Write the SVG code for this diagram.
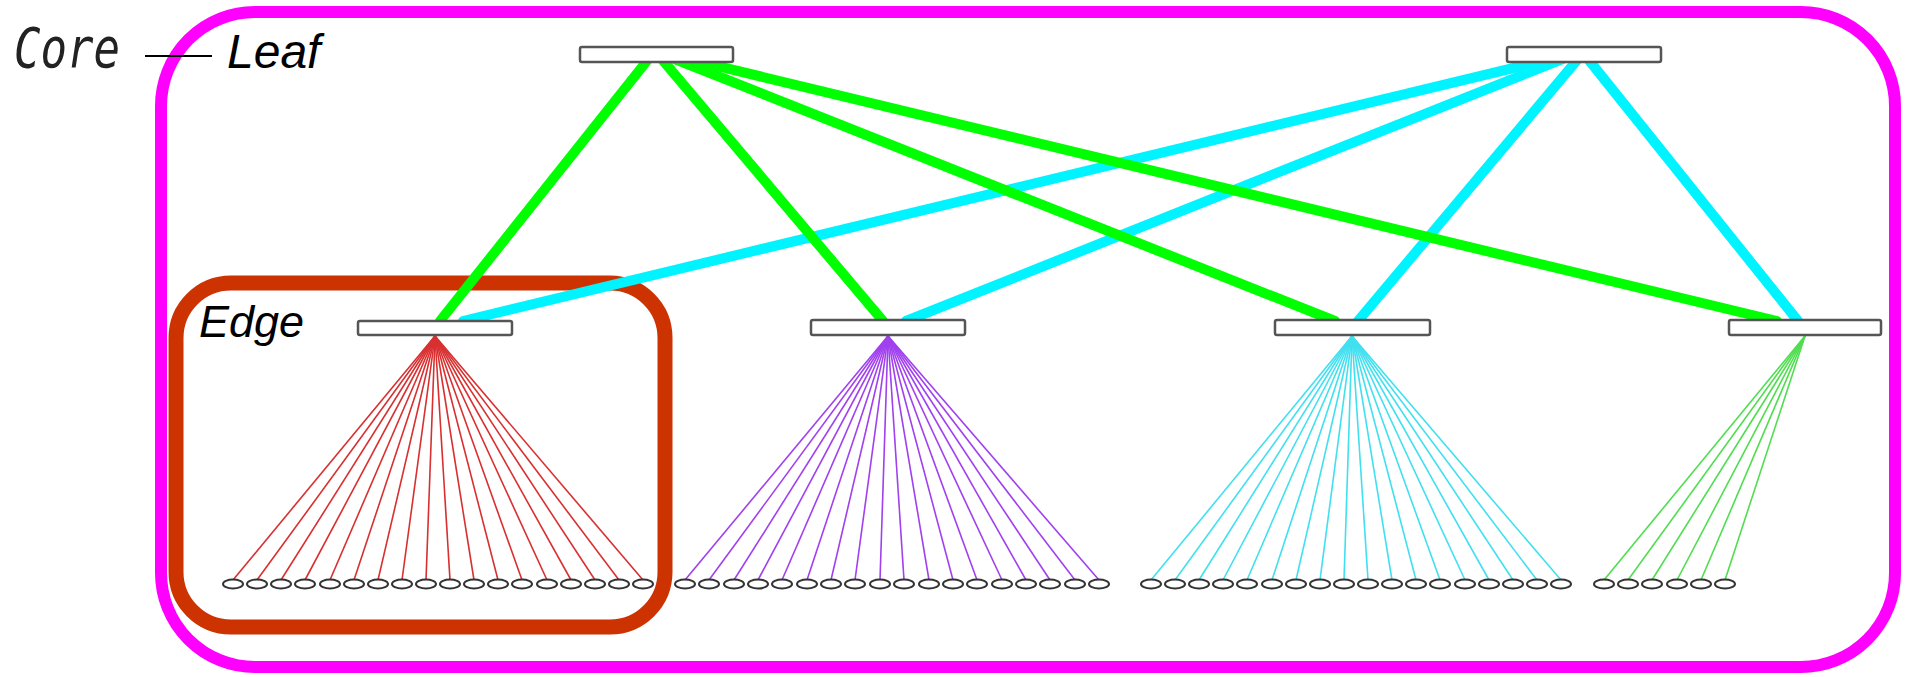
<svg xmlns="http://www.w3.org/2000/svg" xmlns:xlink="http://www.w3.org/1999/xlink" width="1908" height="677" viewBox="0 0 1908 677">
<style>
.sw{fill:#fff;stroke:#555;stroke-width:2.5}
.host{fill:#fff;stroke:#333;stroke-width:2}
.up{fill:none;stroke-width:10;stroke-linecap:round}
.g{stroke:#00ff00}
.c{stroke:#00f4ff}
.f{stroke-width:1.6;fill:none}
.fr{stroke:#d83030}
.fp{stroke:#a040ee}
.fc{stroke:#40e0f0}
.fg{stroke:#50dd50}
.lbl{font-family:"Liberation Sans",Arial,sans-serif;font-style:italic;fill:#000}
</style>
<defs>
<ellipse id="host" cx="0" cy="0" rx="10" ry="4.5" class="host"/>
</defs>
<rect width="1908" height="677" fill="#fff"/>

<!-- group frames -->
<rect id="frame-core-leaf" x="161" y="12" width="1734" height="655" rx="94" ry="94" fill="none" stroke="#ff00ff" stroke-width="12"/>
<rect id="frame-edge" x="176" y="283" width="489" height="344" rx="55" ry="55" fill="none" stroke="#cc3300" stroke-width="15"/>

<!-- labels -->
<text x="14" y="67" font-family="DejaVu Sans Mono,monospace" font-style="oblique" font-size="56" fill="#222" textLength="106" lengthAdjust="spacingAndGlyphs">Core</text>
<line x1="145" y1="56" x2="212" y2="56" stroke="#000" stroke-width="2"/>
<text class="lbl" x="227" y="68" font-size="48">Leaf</text>
<text class="lbl" x="199" y="337" font-size="45">Edge</text>

<!-- connectors -->
<g id="connectors">
<g id="fan-e1" class="f fr">
<line x1="435" y1="336" x2="233" y2="580"/><line x1="435" y1="336" x2="257" y2="580"/><line x1="435" y1="336" x2="281" y2="580"/><line x1="435" y1="336" x2="305" y2="580"/><line x1="435" y1="336" x2="330" y2="580"/><line x1="435" y1="336" x2="354" y2="580"/><line x1="435" y1="336" x2="378" y2="580"/><line x1="435" y1="336" x2="402" y2="580"/><line x1="435" y1="336" x2="426" y2="580"/><line x1="435" y1="336" x2="450" y2="580"/><line x1="435" y1="336" x2="474" y2="580"/><line x1="435" y1="336" x2="498" y2="580"/><line x1="435" y1="336" x2="522" y2="580"/><line x1="435" y1="336" x2="547" y2="580"/><line x1="435" y1="336" x2="571" y2="580"/><line x1="435" y1="336" x2="595" y2="580"/><line x1="435" y1="336" x2="619" y2="580"/><line x1="435" y1="336" x2="643" y2="580"/>
</g>
<g id="fan-e2" class="f fp">
<line x1="888" y1="336" x2="685" y2="580"/><line x1="888" y1="336" x2="709" y2="580"/><line x1="888" y1="336" x2="734" y2="580"/><line x1="888" y1="336" x2="758" y2="580"/><line x1="888" y1="336" x2="782" y2="580"/><line x1="888" y1="336" x2="807" y2="580"/><line x1="888" y1="336" x2="831" y2="580"/><line x1="888" y1="336" x2="855" y2="580"/><line x1="888" y1="336" x2="880" y2="580"/><line x1="888" y1="336" x2="904" y2="580"/><line x1="888" y1="336" x2="929" y2="580"/><line x1="888" y1="336" x2="953" y2="580"/><line x1="888" y1="336" x2="977" y2="580"/><line x1="888" y1="336" x2="1002" y2="580"/><line x1="888" y1="336" x2="1026" y2="580"/><line x1="888" y1="336" x2="1050" y2="580"/><line x1="888" y1="336" x2="1075" y2="580"/><line x1="888" y1="336" x2="1099" y2="580"/>
</g>
<g id="fan-e3" class="f fc">
<line x1="1352" y1="336" x2="1151" y2="580"/><line x1="1352" y1="336" x2="1175" y2="580"/><line x1="1352" y1="336" x2="1199" y2="580"/><line x1="1352" y1="336" x2="1223" y2="580"/><line x1="1352" y1="336" x2="1247" y2="580"/><line x1="1352" y1="336" x2="1272" y2="580"/><line x1="1352" y1="336" x2="1296" y2="580"/><line x1="1352" y1="336" x2="1320" y2="580"/><line x1="1352" y1="336" x2="1344" y2="580"/><line x1="1352" y1="336" x2="1368" y2="580"/><line x1="1352" y1="336" x2="1392" y2="580"/><line x1="1352" y1="336" x2="1416" y2="580"/><line x1="1352" y1="336" x2="1440" y2="580"/><line x1="1352" y1="336" x2="1465" y2="580"/><line x1="1352" y1="336" x2="1489" y2="580"/><line x1="1352" y1="336" x2="1513" y2="580"/><line x1="1352" y1="336" x2="1537" y2="580"/><line x1="1352" y1="336" x2="1561" y2="580"/>
</g>
<g id="fan-e4" class="f fg">
<line x1="1805" y1="336" x2="1604" y2="580"/><line x1="1805" y1="336" x2="1628" y2="580"/><line x1="1805" y1="336" x2="1652" y2="580"/><line x1="1805" y1="336" x2="1677" y2="580"/><line x1="1805" y1="336" x2="1701" y2="580"/><line x1="1805" y1="336" x2="1725" y2="580"/>
</g>
<g id="uplinks-c2" class="up c">
<line x1="1555" y1="58" x2="463" y2="321"/>
<line x1="1565" y1="58" x2="906" y2="321"/>
<line x1="1578" y1="59" x2="1358" y2="321"/>
<line x1="1588" y1="59" x2="1798" y2="321"/>
</g>
<g id="uplinks-c1" class="up g">
<line x1="650" y1="57" x2="440" y2="321"/>
<line x1="660" y1="57" x2="883" y2="321"/>
<line x1="672" y1="58" x2="1335" y2="321"/>
<line x1="684" y1="58" x2="1777" y2="321"/>
</g>
</g>

<!-- switches -->
<g id="core1"><rect class="sw" x="580" y="47" width="153" height="15" rx="2"/></g>
<g id="core2"><rect class="sw" x="1507" y="47" width="154" height="15" rx="2"/></g>
<g id="edge1"><rect class="sw" x="358" y="321" width="154" height="14" rx="2"/></g>
<g id="edge2"><rect class="sw" x="811" y="320" width="154" height="15" rx="2"/></g>
<g id="edge3"><rect class="sw" x="1275" y="320" width="155" height="15" rx="2"/></g>
<g id="edge4"><rect class="sw" x="1729" y="320" width="152" height="15" rx="2"/></g>

<!-- hosts -->
<g id="hosts-e1">
<g id="h1-01"><use xlink:href="#host" x="233" y="584"/></g><g id="h1-02"><use xlink:href="#host" x="257" y="584"/></g><g id="h1-03"><use xlink:href="#host" x="281" y="584"/></g><g id="h1-04"><use xlink:href="#host" x="305" y="584"/></g><g id="h1-05"><use xlink:href="#host" x="330" y="584"/></g><g id="h1-06"><use xlink:href="#host" x="354" y="584"/></g><g id="h1-07"><use xlink:href="#host" x="378" y="584"/></g><g id="h1-08"><use xlink:href="#host" x="402" y="584"/></g><g id="h1-09"><use xlink:href="#host" x="426" y="584"/></g><g id="h1-10"><use xlink:href="#host" x="450" y="584"/></g><g id="h1-11"><use xlink:href="#host" x="474" y="584"/></g><g id="h1-12"><use xlink:href="#host" x="498" y="584"/></g><g id="h1-13"><use xlink:href="#host" x="522" y="584"/></g><g id="h1-14"><use xlink:href="#host" x="547" y="584"/></g><g id="h1-15"><use xlink:href="#host" x="571" y="584"/></g><g id="h1-16"><use xlink:href="#host" x="595" y="584"/></g><g id="h1-17"><use xlink:href="#host" x="619" y="584"/></g><g id="h1-18"><use xlink:href="#host" x="643" y="584"/></g>
</g>
<g id="hosts-e2">
<g id="h2-01"><use xlink:href="#host" x="685" y="584"/></g><g id="h2-02"><use xlink:href="#host" x="709" y="584"/></g><g id="h2-03"><use xlink:href="#host" x="734" y="584"/></g><g id="h2-04"><use xlink:href="#host" x="758" y="584"/></g><g id="h2-05"><use xlink:href="#host" x="782" y="584"/></g><g id="h2-06"><use xlink:href="#host" x="807" y="584"/></g><g id="h2-07"><use xlink:href="#host" x="831" y="584"/></g><g id="h2-08"><use xlink:href="#host" x="855" y="584"/></g><g id="h2-09"><use xlink:href="#host" x="880" y="584"/></g><g id="h2-10"><use xlink:href="#host" x="904" y="584"/></g><g id="h2-11"><use xlink:href="#host" x="929" y="584"/></g><g id="h2-12"><use xlink:href="#host" x="953" y="584"/></g><g id="h2-13"><use xlink:href="#host" x="977" y="584"/></g><g id="h2-14"><use xlink:href="#host" x="1002" y="584"/></g><g id="h2-15"><use xlink:href="#host" x="1026" y="584"/></g><g id="h2-16"><use xlink:href="#host" x="1050" y="584"/></g><g id="h2-17"><use xlink:href="#host" x="1075" y="584"/></g><g id="h2-18"><use xlink:href="#host" x="1099" y="584"/></g>
</g>
<g id="hosts-e3">
<g id="h3-01"><use xlink:href="#host" x="1151" y="584"/></g><g id="h3-02"><use xlink:href="#host" x="1175" y="584"/></g><g id="h3-03"><use xlink:href="#host" x="1199" y="584"/></g><g id="h3-04"><use xlink:href="#host" x="1223" y="584"/></g><g id="h3-05"><use xlink:href="#host" x="1247" y="584"/></g><g id="h3-06"><use xlink:href="#host" x="1272" y="584"/></g><g id="h3-07"><use xlink:href="#host" x="1296" y="584"/></g><g id="h3-08"><use xlink:href="#host" x="1320" y="584"/></g><g id="h3-09"><use xlink:href="#host" x="1344" y="584"/></g><g id="h3-10"><use xlink:href="#host" x="1368" y="584"/></g><g id="h3-11"><use xlink:href="#host" x="1392" y="584"/></g><g id="h3-12"><use xlink:href="#host" x="1416" y="584"/></g><g id="h3-13"><use xlink:href="#host" x="1440" y="584"/></g><g id="h3-14"><use xlink:href="#host" x="1465" y="584"/></g><g id="h3-15"><use xlink:href="#host" x="1489" y="584"/></g><g id="h3-16"><use xlink:href="#host" x="1513" y="584"/></g><g id="h3-17"><use xlink:href="#host" x="1537" y="584"/></g><g id="h3-18"><use xlink:href="#host" x="1561" y="584"/></g>
</g>
<g id="hosts-e4">
<g id="h4-01"><use xlink:href="#host" x="1604" y="584"/></g><g id="h4-02"><use xlink:href="#host" x="1628" y="584"/></g><g id="h4-03"><use xlink:href="#host" x="1652" y="584"/></g><g id="h4-04"><use xlink:href="#host" x="1677" y="584"/></g><g id="h4-05"><use xlink:href="#host" x="1701" y="584"/></g><g id="h4-06"><use xlink:href="#host" x="1725" y="584"/></g>
</g>
</svg>
